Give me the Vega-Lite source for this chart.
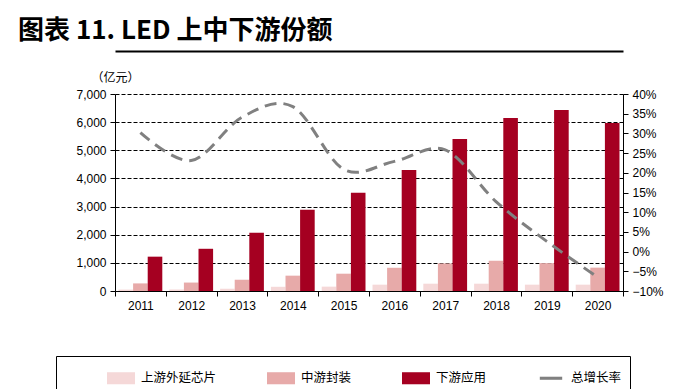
{
  "$schema": "https://vega.github.io/schema/vega-lite/v6.json",
  "width": 508,
  "height": 197,
  "autosize": {"type": "none"},
  "padding": {"left": 115, "top": 94, "right": 50, "bottom": 98},
  "background": "white",
  "title": {
    "text": "图表 11. LED 上中下游份额",
    "anchor": "start",
    "frame": "group",
    "dx": -97,
    "offset": 7,
    "font": "Noto Sans CJK SC",
    "fontSize": 26,
    "fontWeight": "bold",
    "color": "black"
  },
  "config": {
    "view": {"stroke": null},
    "axis": {
      "labelFont": "Liberation Sans",
      "labelFontSize": 12,
      "labelColor": "black",
      "domainColor": "black",
      "tickColor": "black",
      "tickSize": 5
    }
  },
  "datasets": {
    "bars": [
      {"year": "2011", "segment": "上游外延芯片", "value": 50},
      {"year": "2011", "segment": "中游封装", "value": 270},
      {"year": "2011", "segment": "下游应用", "value": 1220},
      {"year": "2012", "segment": "上游外延芯片", "value": 55},
      {"year": "2012", "segment": "中游封装", "value": 300},
      {"year": "2012", "segment": "下游应用", "value": 1500},
      {"year": "2013", "segment": "上游外延芯片", "value": 80},
      {"year": "2013", "segment": "中游封装", "value": 400},
      {"year": "2013", "segment": "下游应用", "value": 2070},
      {"year": "2014", "segment": "上游外延芯片", "value": 150},
      {"year": "2014", "segment": "中游封装", "value": 545},
      {"year": "2014", "segment": "下游应用", "value": 2885},
      {"year": "2015", "segment": "上游外延芯片", "value": 155},
      {"year": "2015", "segment": "中游封装", "value": 615},
      {"year": "2015", "segment": "下游应用", "value": 3490},
      {"year": "2016", "segment": "上游外延芯片", "value": 225},
      {"year": "2016", "segment": "中游封装", "value": 825},
      {"year": "2016", "segment": "下游应用", "value": 4300},
      {"year": "2017", "segment": "上游外延芯片", "value": 260},
      {"year": "2017", "segment": "中游封装", "value": 980},
      {"year": "2017", "segment": "下游应用", "value": 5400},
      {"year": "2018", "segment": "上游外延芯片", "value": 260},
      {"year": "2018", "segment": "中游封装", "value": 1075},
      {"year": "2018", "segment": "下游应用", "value": 6145},
      {"year": "2019", "segment": "上游外延芯片", "value": 225},
      {"year": "2019", "segment": "中游封装", "value": 990},
      {"year": "2019", "segment": "下游应用", "value": 6430},
      {"year": "2020", "segment": "上游外延芯片", "value": 225},
      {"year": "2020", "segment": "中游封装", "value": 830},
      {"year": "2020", "segment": "下游应用", "value": 5970}
    ],
    "growth": [
      {"year": "2011", "rate": 0.302},
      {"year": "2012", "rate": 0.231},
      {"year": "2013", "rate": 0.341},
      {"year": "2014", "rate": 0.368},
      {"year": "2015", "rate": 0.209},
      {"year": "2016", "rate": 0.229},
      {"year": "2017", "rate": 0.258},
      {"year": "2018", "rate": 0.127},
      {"year": "2019", "rate": 0.026},
      {"year": "2020", "rate": -0.065}
    ]
  },
  "layer": [
    {
      "data": {"name": "bars"},
      "mark": {"type": "bar"},
      "encoding": {
        "x": {
          "field": "year",
          "type": "nominal",
          "scale": {"paddingInner": 0, "paddingOuter": 0},
          "axis": {
            "orient": "bottom",
            "title": null,
            "labelAngle": 0,
            "tickBand": "extent",
            "labelPadding": 4,
            "grid": false
          }
        },
        "xOffset": {
          "field": "segment",
          "type": "nominal",
          "scale": {"domain": ["上游外延芯片", "中游封装", "下游应用"], "paddingInner": 0, "paddingOuter": 0.24}
        },
        "y": {
          "field": "value",
          "type": "quantitative",
          "scale": {"domain": [0, 7000]},
          "axis": {
            "values": [0, 1000, 2000, 3000, 4000, 5000, 6000, 7000],
            "format": ",d",
            "labelPadding": 4,
            "grid": true,
            "gridColor": "black",
            "gridDash": [4, 2],
            "gridWidth": 1,
            "title": "（亿元）",
            "titleAngle": 0,
            "titleX": 0,
            "titleY": -17,
            "titleAlign": "center",
            "titleBaseline": "middle",
            "titleFont": "Noto Sans CJK SC",
            "titleFontSize": 12,
            "titleFontWeight": "normal",
            "titleColor": "black"
          }
        },
        "color": {
          "field": "segment",
          "type": "nominal",
          "scale": {
            "domain": ["上游外延芯片", "中游封装", "下游应用", "总增长率"],
            "range": ["#F5D8D8", "#E7AAA9", "#A50021", "#808080"]
          },
          "legend": {
            "orient": "none",
            "legendX": -59,
            "legendY": 262,
            "direction": "horizontal",
            "title": "\u3000",
            "titleOrient": "left",
            "titlePadding": 43,
            "titleFontSize": 12,
            "padding": 8,
            "strokeColor": "black",
            "symbolSize": 784,
            "columnPadding": 50,
            "labelOffset": 6,
            "labelFont": "Noto Sans CJK SC",
            "labelFontSize": 12.5,
            "labelColor": "black",
            "labelExpr": "datum.label == '总增长率' ? datum.label + '\u3000\u3000' : datum.label",
            "encode": {
              "symbols": {
                "update": {
                  "shape": {"signal": "datum.value === '总增长率' ? 'M-0.8,-0.11H0.8V0.11H-0.8Z' : 'M-1,-0.43H1V0.43H-1Z'"},
                  "fill": {"signal": "datum.value === '总增长率' ? '#808080' : scale('color', datum.value)"},
                  "stroke": {"value": "transparent"},
                  "strokeWidth": {"value": 0},
                  "strokeDash": {"value": [100, 0]},
                  "opacity": {"value": 1}
                }
              }
            }
          }
        }
      }
    },
    {
      "data": {"name": "growth"},
      "mark": {"type": "line", "interpolate": "cardinal", "strokeDash": [12, 7], "strokeWidth": 3, "strokeCap": "butt"},
      "encoding": {
        "x": {
          "field": "year",
          "type": "nominal",
          "axis": {
            "orient": "top",
            "offset": 43,
            "labels": false,
            "ticks": false,
            "grid": false,
            "title": null,
            "domainColor": "black",
            "domainWidth": 2,
            "encode": {"domain": {"update": {"x": {"value": -99}}}}
          }
        },
        "y": {
          "field": "rate",
          "type": "quantitative",
          "scale": {"domain": [-0.1, 0.4]},
          "axis": {
            "orient": "right",
            "values": [-0.1, -0.05, 0, 0.05, 0.1, 0.15, 0.2, 0.25, 0.3, 0.35, 0.4],
            "format": ".0%",
            "labelPadding": 4,
            "grid": false,
            "title": null
          }
        },
        "color": {"datum": "总增长率", "type": "nominal"}
      }
    }
  ],
  "resolve": {"scale": {"y": "independent"}, "axis": {"x": "independent"}}
}
